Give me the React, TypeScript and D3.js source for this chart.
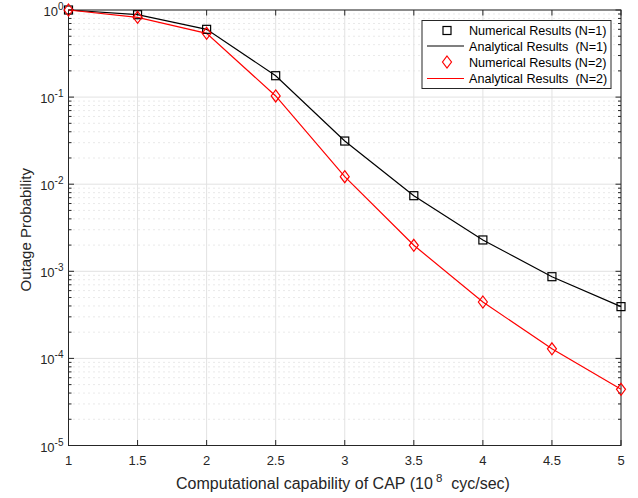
import React from "react";
import * as d3 from "d3";

const xValues = [1, 1.5, 2, 2.5, 3, 3.5, 4, 4.5, 5];
const numericalN1 = [1.0, 0.883, 0.6, 0.176, 0.0313, 0.00738, 0.00229, 8.67e-4, 3.93e-4];
const analyticalN1 = [1.0, 0.883, 0.6, 0.176, 0.0313, 0.00738, 0.00229, 8.67e-4, 3.93e-4];
const numericalN2 = [1.0, 0.824, 0.54, 0.103, 0.0122, 0.00199, 4.44e-4, 1.29e-4, 4.42e-5];
const analyticalN2 = [1.0, 0.824, 0.54, 0.103, 0.0122, 0.00199, 4.44e-4, 1.29e-4, 4.42e-5];
const xTicks = [1, 1.5, 2, 2.5, 3, 3.5, 4, 4.5, 5];
const yExponents = [0, -1, -2, -3, -4, -5];
const legendLabels = [
  "Numerical Results (N=1)",
  "Analytical Results  (N=1)",
  "Numerical Results (N=2)",
  "Analytical Results  (N=2)",
];

const W = 638, H = 498;
const L = 68.5, R = 621, T = 10, B = 445.5;
const axisColor = "#262626";
const font = "Liberation Sans, Arial, Helvetica, sans-serif";

export default function App() {
  const x = d3.scaleLinear().domain([1, 5]).range([L, R]);
  const y = d3.scaleLog().domain([1e-5, 1]).range([B, T]);
  const line = d3
    .line<number>()
    .x((_, i) => x(xValues[i]))
    .y((d) => y(d));

  const minors: number[] = [];
  for (let e = -5; e < 0; e++) {
    for (let m = 2; m <= 9; m++) minors.push(m * Math.pow(10, e));
  }

  const sq = 8;
  const diamond = (cx: number, cy: number) =>
    `M${cx},${cy - 6}L${cx + 4.5},${cy}L${cx},${cy + 6}L${cx - 4.5},${cy}Z`;

  const legX = 422, legY = 20.5, legW = 189, legH = 68;
  const rowY = [30.5, 46, 62, 78.5];

  return (
    <svg width={W} height={H} style={{ position: "absolute", left: 0, top: 0 }}>
      <rect x={0} y={0} width={W} height={H} fill="#fff" />
      {/* minor grid */}
      {minors.map((v, i) => (
        <line key={"mg" + i} x1={L} x2={R} y1={y(v)} y2={y(v)} stroke="#c8c8c8" strokeWidth={0.8} strokeDasharray="1,4" />
      ))}
      {/* major grid */}
      {yExponents.map((e) => (
        <line key={"yg" + e} x1={L} x2={R} y1={y(Math.pow(10, e))} y2={y(Math.pow(10, e))} stroke="#e2e2e2" strokeWidth={1} />
      ))}
      {xTicks.map((t) => (
        <line key={"xg" + t} x1={x(t)} x2={x(t)} y1={T} y2={B} stroke="#e2e2e2" strokeWidth={1} />
      ))}
      {/* axes box */}
      <rect x={L} y={T} width={R - L} height={B - T} fill="none" stroke={axisColor} strokeWidth={1} />
      {/* x ticks */}
      {xTicks.map((t) => (
        <g key={"xt" + t}>
          <line x1={x(t)} x2={x(t)} y1={B} y2={B - 5.5} stroke={axisColor} />
          <line x1={x(t)} x2={x(t)} y1={T} y2={T + 5.5} stroke={axisColor} />
          <text x={x(t)} y={B + 19} textAnchor="middle" fontFamily={font} fontSize={13} fill={axisColor}>
            {t}
          </text>
        </g>
      ))}
      {/* y ticks */}
      {yExponents.map((e) => {
        const yy = y(Math.pow(10, e));
        return (
          <g key={"yt" + e}>
            <line x1={L} x2={L + 5.5} y1={yy} y2={yy} stroke={axisColor} />
            <line x1={R} x2={R - 5.5} y1={yy} y2={yy} stroke={axisColor} />
            <text x={L - 5} y={yy + 6} textAnchor="end" fontFamily={font} fontSize={13} fill={axisColor}>
              10<tspan dy={-6} fontSize={10}>{e}</tspan>
            </text>
          </g>
        );
      })}
      {minors.map((v, i) => (
        <g key={"mt" + i}>
          <line x1={L} x2={L + 3} y1={y(v)} y2={y(v)} stroke={axisColor} />
          <line x1={R} x2={R - 3} y1={y(v)} y2={y(v)} stroke={axisColor} />
        </g>
      ))}
      {/* lines */}
      <path d={line(analyticalN1) || ""} fill="none" stroke="#000" strokeWidth={1.2} />
      <path d={line(analyticalN2) || ""} fill="none" stroke="#ff0000" strokeWidth={1.2} />
      {/* markers */}
      {numericalN1.map((v, i) => (
        <rect key={"s" + i} x={x(xValues[i]) - sq / 2} y={y(v) - sq / 2} width={sq} height={sq} fill="none" stroke="#000" strokeWidth={1.2} />
      ))}
      {numericalN2.map((v, i) => (
        <path key={"d" + i} d={diamond(x(xValues[i]), y(v))} fill="none" stroke="#ff0000" strokeWidth={1.2} />
      ))}
      {/* legend */}
      <rect x={legX} y={legY} width={legW} height={legH} fill="#fff" stroke={axisColor} strokeWidth={1} />
      <rect x={447 - 4} y={rowY[0] - 4} width={8} height={8} fill="none" stroke="#000" strokeWidth={1.2} />
      <line x1={427} x2={464} y1={rowY[1]} y2={rowY[1]} stroke="#000" strokeWidth={1.2} />
      <path d={diamond(447, rowY[2])} fill="none" stroke="#ff0000" strokeWidth={1.2} />
      <line x1={427} x2={464} y1={rowY[3]} y2={rowY[3]} stroke="#ff0000" strokeWidth={1.2} />
      {legendLabels.map((s, i) => (
        <text key={"l" + i} x={469} y={rowY[i] + 4.5} fontFamily={font} fontSize={12.6} fill="#000" style={{ whiteSpace: "pre" }}>
          {s}
        </text>
      ))}
      {/* axis labels */}
      <text x={343} y={489} textAnchor="middle" fontFamily={font} fontSize={16} fill={axisColor} style={{ whiteSpace: "pre" }}>
        Computational capability of CAP (10<tspan dy={-7} fontSize={11.5}> 8</tspan><tspan dy={7}>  cyc/sec)</tspan>
      </text>
      <text transform={`translate(31,${(T + B) / 2 + 2}) rotate(-90)`} textAnchor="middle" fontFamily={font} fontSize={15} fill={axisColor}>
        Outage Probability
      </text>
    </svg>
  );
}
